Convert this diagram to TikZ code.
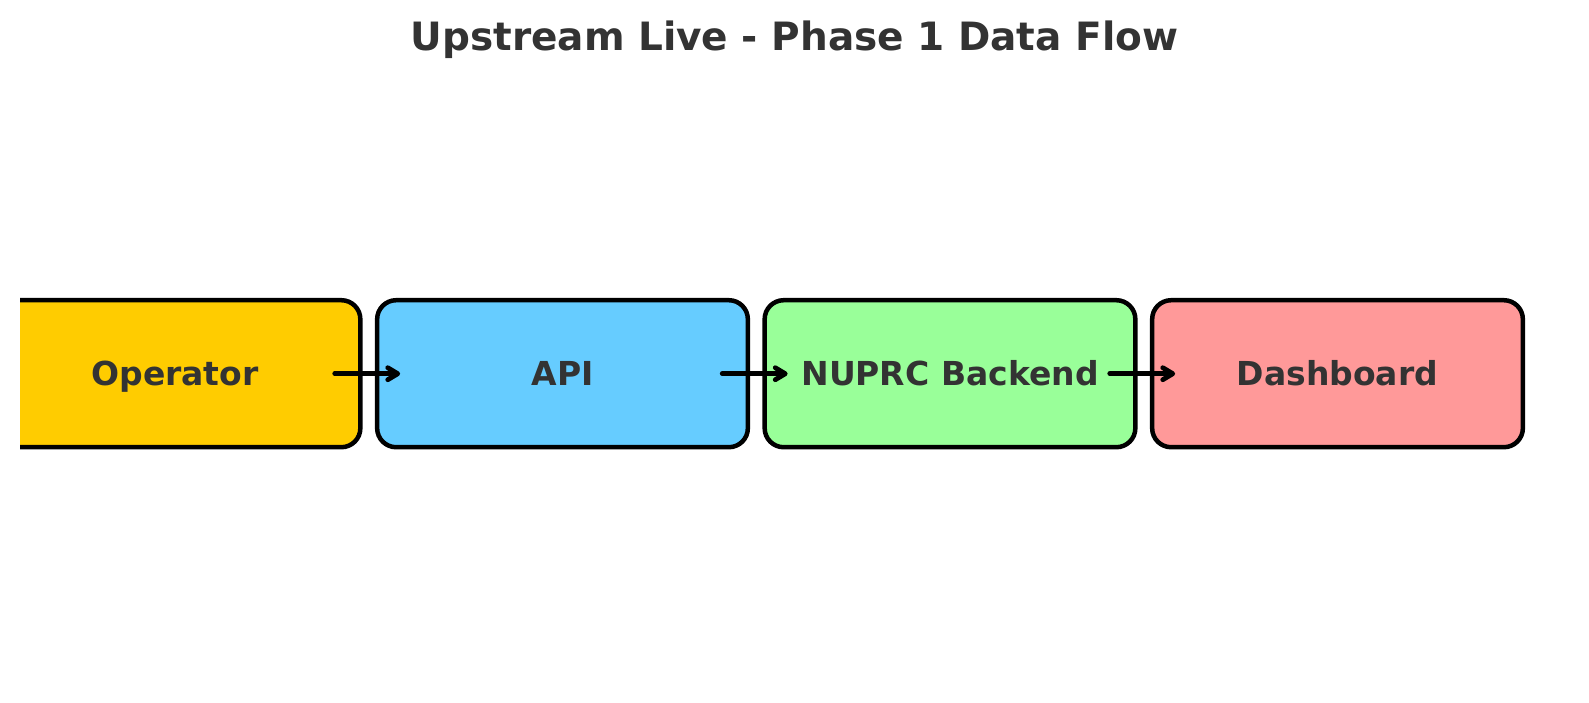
\documentclass[tikz,border=0pt]{standalone}
\usepackage{fontspec}
\setmainfont{DejaVu Sans}
\usetikzlibrary{arrows.meta,calc}
\definecolor{txt}{HTML}{333333}
\definecolor{cyel}{HTML}{FFCC00}
\definecolor{cblu}{HTML}{66CCFF}
\definecolor{cgrn}{HTML}{99FF99}
\definecolor{cred}{HTML}{FF9999}
\tikzset{
  flowbox/.style={draw=black, line width=4.5pt, rounded corners=19pt, outer sep=0pt,
    minimum width=370.7pt, minimum height=147pt, inner sep=0pt,
    text height=23pt, text depth=0pt, text=txt,
    font=\fontsize{33}{36}\selectfont\bfseries},
  flowarrow/.style={line width=4.8pt, line cap=round, line join=round,
    -{Straight Barb[length=10pt,width=12pt,line cap=round,line join=round]}},
}
\begin{document}
\begin{tikzpicture}[x=1pt,y=-1pt]
\useasboundingbox (0,0) rectangle (1589,702);
\node[text=txt, font=\fontsize{39}{42}\selectfont\bfseries, anchor=base] (title) at (794.5,50) {Upstream Live - Phase 1 Data Flow};
\begin{scope}
\clip (20,0) rectangle (1589,702);
\node[flowbox, fill=cyel] (op) at (175,373.7) {Operator};
\end{scope}
\node[flowbox, fill=cblu] (api) at (562.5,373.7) {API};
\node[flowbox, fill=cgrn] (nb) at (950,373.7) {NUPRC Backend};
\node[flowbox, fill=cred] (db) at (1337.5,373.7) {Dashboard};
\draw[flowarrow] ($(op.east)+(-25.6,0)$) -- ($(api.west)+(23,0)$);
\draw[flowarrow] ($(api.east)+(-25.6,0)$) -- ($(nb.west)+(23,0)$);
\draw[flowarrow] ($(nb.east)+(-25.6,0)$) -- ($(db.west)+(23,0)$);
\end{tikzpicture}
\end{document}
